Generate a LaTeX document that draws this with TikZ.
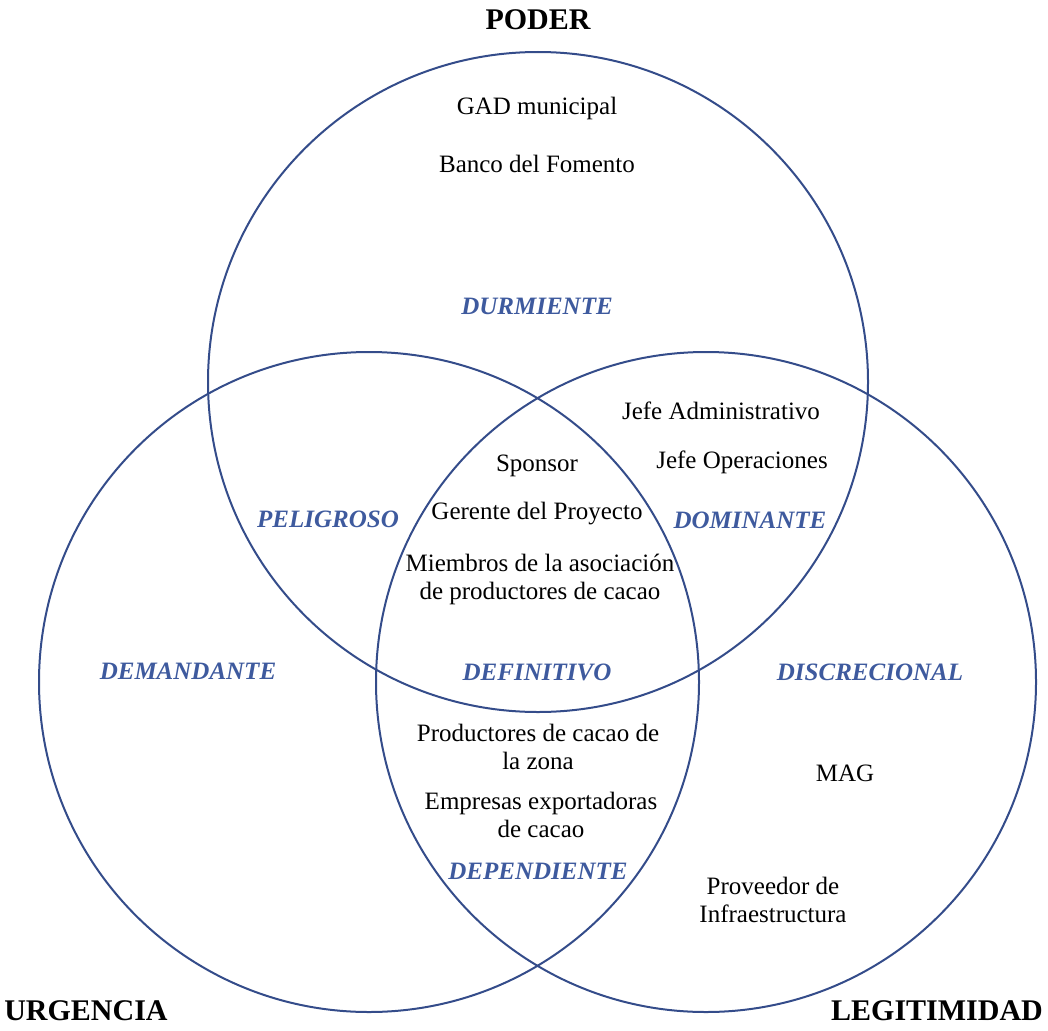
\documentclass[tikz,border=0pt]{standalone}
\usepackage{fontspec}
\setmainfont{Liberation Serif}
\usepackage{tikz}
\definecolor{vennblue}{RGB}{52,76,138}
\definecolor{zoneblue}{RGB}{62,90,158}

\begin{document}
\begin{tikzpicture}[x=1pt, y=-1pt,
	circ/.style={draw=vennblue, line width=2pt},
	actor/.style={font=\fontsize{25}{28}\selectfont, align=center, inner sep=0pt},
	zone/.style={font=\fontsize{25}{28}\selectfont\bfseries\itshape, text=zoneblue, inner sep=0pt},
	attrib/.style={font=\fontsize{30}{34}\selectfont\bfseries, inner sep=0pt}]
	\useasboundingbox (0,0) rectangle (1048,1030);
	
	% circles
	\draw[circ] (538,382) circle (330pt);
	\draw[circ] (369,682) circle (330pt);
	\draw[circ] (706,682) circle (330pt);
	
	% attributes
	\node[attrib] (poder) at (538,20) {PODER};
	\node[attrib] (urgencia) at (86,1011) {URGENCIA};
	\node[attrib] (legitimidad) at (937,1011) {LEGITIMIDAD};
	
	% zones
	\node[zone] (durmiente) at (537,306) {DURMIENTE};
	\node[zone] (peligroso) at (328,519) {PELIGROSO};
	\node[zone] (dominante) at (750,520) {DOMINANTE};
	\node[zone] (demandante) at (188,671) {DEMANDANTE};
	\node[zone] (definitivo) at (537,672) {DEFINITIVO};
	\node[zone] (discrecional) at (870,672) {DISCRECIONAL};
	\node[zone] (dependiente) at (538,871) {DEPENDIENTE};
	
	% stakeholders
	\node[actor] (gad) at (537,108) {GAD municipal};
	\node[actor] (banco) at (537,164) {Banco del Fomento};
	\node[actor] (jefeadm) at (721,411) {Jefe Administrativo};
	\node[actor] (jefeop) at (742,462) {Jefe Operaciones};
	\node[actor] (sponsor) at (537,466) {Sponsor};
	\node[actor] (gerente) at (537,514) {Gerente del Proyecto};
	\node[actor] (miembros) at (540,579) {Miembros de la asociación\\de productores de cacao};
	\node[actor] (productores) at (538,747) {Productores de cacao de\\la zona};
	\node[actor] (empresas) at (541,815) {Empresas exportadoras\\de cacao};
	\node[actor] (mag) at (845,773) {MAG};
	\node[actor] (proveedor) at (773,900) {Proveedor de\\Infraestructura};
\end{tikzpicture}
\end{document}
